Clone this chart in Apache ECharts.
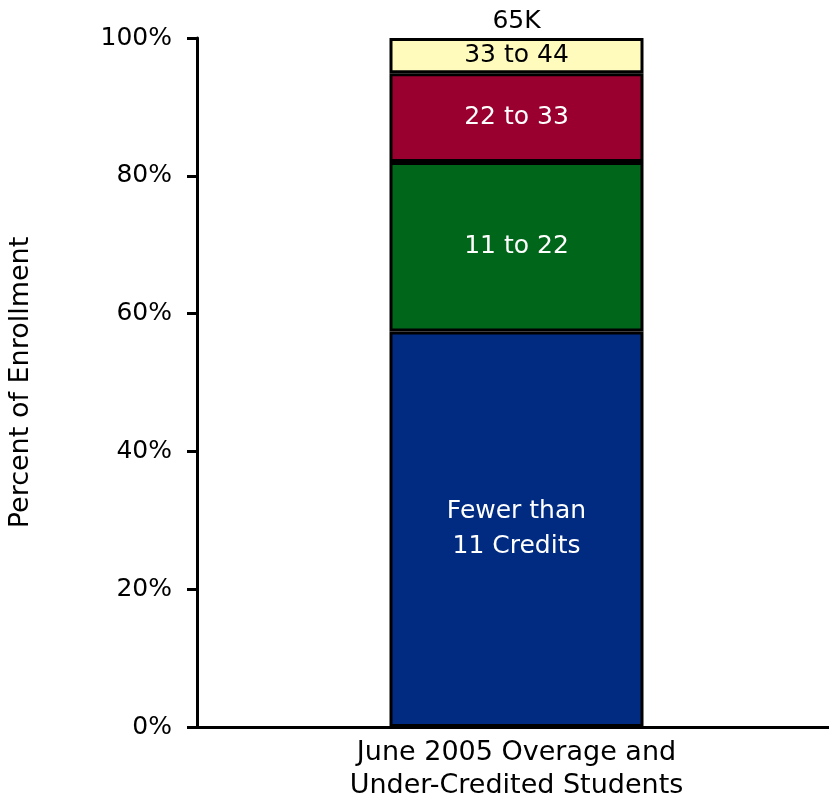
<!DOCTYPE html>
<html>
<head>
<meta charset="utf-8">
<script src="https://cdn.jsdelivr.net/npm/echarts@6/dist/echarts.min.js"></script>
<style>
  html, body { margin: 0; padding: 0; background: #fff; }
  #chart { width: 829px; height: 799px; }
</style>
</head>
<body>
<div id="chart"></div>
<script>
// Share of enrollment by credits earned (percent), one stacked column
const categories = ['June 2005 Overage and\nUnder-Credited Students'];
const segmentNames = ['Fewer than\n11 Credits', '11 to 22', '22 to 33', '33 to 44'];
const fewerThan11 = [57.4];
const from11to22 = [24.6];
const from22to33 = [12.9];
const from33to44 = [5.1];
const totalLabel = '65K';
const yTicks = ['0%', '20%', '40%', '60%', '80%', '100%'];

const segmentValues = [fewerThan11, from11to22, from22to33, from33to44];
const segmentColors = ['#002B80', '#00661A', '#99002F', '#FFFBBD'];
const labelColors = ['#ffffff', '#ffffff', '#ffffff', '#000000'];
const FONT = 'DejaVu Sans';
const BAR_WIDTH = 254;

const series = segmentNames.map((name, i) => ({
  name: name,
  type: 'bar',
  stack: 'total',
  barWidth: BAR_WIDTH,
  data: segmentValues[i],
  itemStyle: { color: segmentColors[i], borderColor: '#000', borderWidth: 3 },
  label: {
    show: true,
    position: 'inside',
    formatter: name,
    color: labelColors[i],
    fontFamily: FONT,
    fontSize: 25,
    lineHeight: 35
  },
  emphasis: { disabled: true }
}));

// zero-height cap on the stack that carries the enrollment total above the column
series.push({
  name: 'total',
  type: 'bar',
  stack: 'total',
  barWidth: BAR_WIDTH,
  data: [0],
  itemStyle: { color: 'transparent', borderWidth: 0 },
  label: {
    show: true,
    position: 'top',
    distance: 4,
    formatter: totalLabel,
    color: '#000',
    fontFamily: FONT,
    fontSize: 25
  },
  emphasis: { disabled: true }
});

const chart = echarts.init(document.getElementById('chart'), null, { renderer: 'canvas' });
chart.setOption({
  animation: false,
  backgroundColor: '#ffffff',
  grid: {
    left: 197, right: -7, top: 38, bottom: 72,
    containLabel: false,
    outerBoundsMode: 'none'
  },
  xAxis: {
    type: 'category',
    data: categories,
    axisLine: { lineStyle: { color: '#000', width: 3 } },
    axisTick: { show: false },
    axisLabel: {
      color: '#000',
      fontFamily: FONT,
      fontSize: 27,
      lineHeight: 33,
      margin: 9
    }
  },
  yAxis: {
    type: 'value',
    min: 0,
    max: 100,
    interval: 20,
    name: 'Percent of Enrollment',
    nameLocation: 'middle',
    nameGap: 163,
    nameTextStyle: { color: '#000', fontFamily: FONT, fontSize: 27 },
    axisLine: { show: true, lineStyle: { color: '#000', width: 3 } },
    axisTick: { show: true, length: 10, lineStyle: { color: '#000', width: 3 } },
    splitLine: { show: false },
    axisLabel: {
      color: '#000',
      fontFamily: FONT,
      fontSize: 25,
      margin: 25,
      formatter: (v) => yTicks[Math.round(v / 20)]
    }
  },
  series: series
});
</script>
</body>
</html>
